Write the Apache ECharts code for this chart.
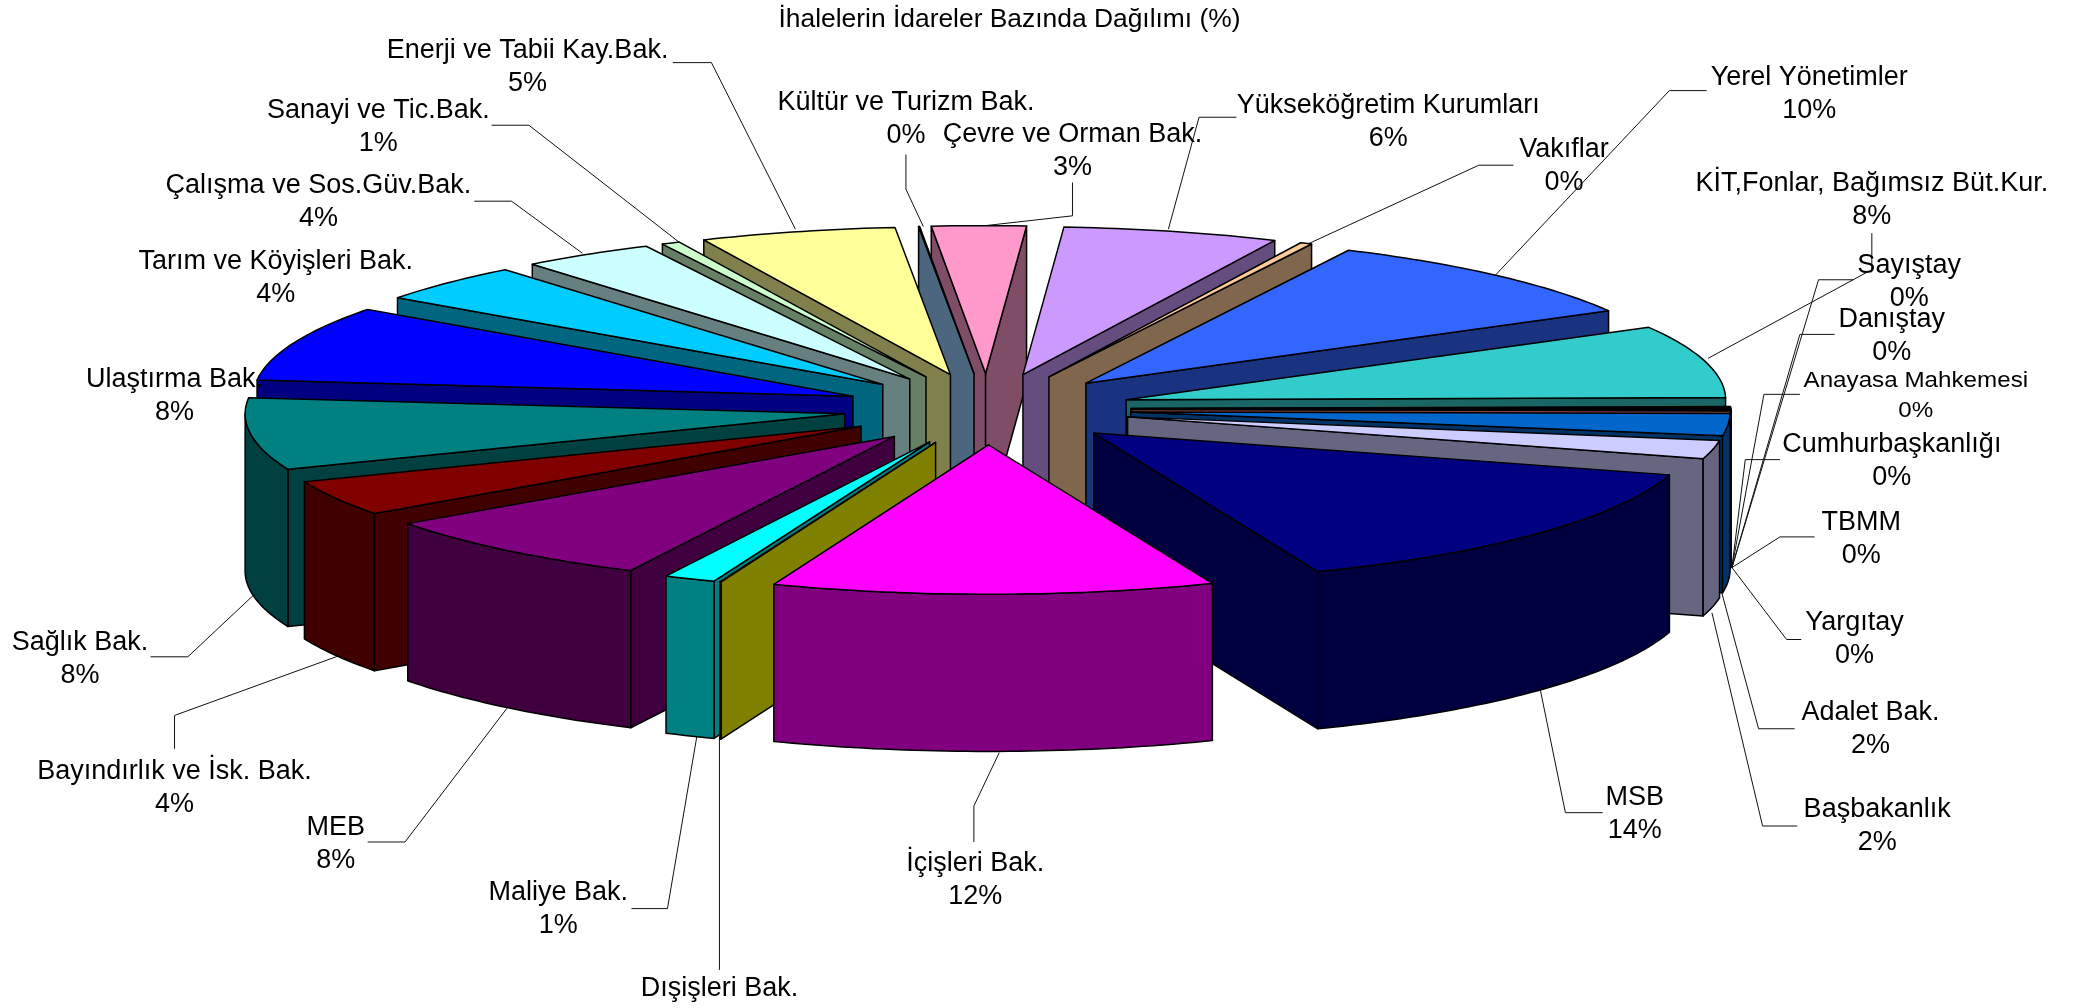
<!DOCTYPE html>
<html><head><meta charset="utf-8">
<style>html,body{margin:0;padding:0;background:#fff}#c{width:2089px;height:1008px}</style>
<script src="https://cdn.jsdelivr.net/npm/echarts@6/dist/echarts.min.js"></script>
</head><body><div id="c"></div>
<script>
// ---- data (clockwise from the top of the pie) ----
const categories = ['Çevre ve Orman Bak.','Yükseköğretim Kurumları','Vakıflar','Yerel Yönetimler','KİT,Fonlar, Bağımsız Büt.Kur.','Sayıştay','Danıştay','Anayasa Mahkemesi','Cumhurbaşkanlığı','TBMM','Yargıtay','Adalet Bak.','Başbakanlık','MSB','İçişleri Bak.','Dışişleri Bak.','Maliye Bak.','MEB','Bayındırlık ve İsk. Bak.','Sağlık Bak.','Ulaştırma Bak.','Tarım ve Köyişleri Bak.','Çalışma ve Sos.Güv.Bak.','Sanayi ve Tic.Bak.','Enerji ve Tabii Kay.Bak.','Kültür ve Turizm Bak.'];
const values = [2.55,5.85,0.32,9.7,7.97,0.1,0.1,0.05,0.05,0.05,0.05,2.38,2.0,14.49,12.0,0.03,1.4,7.88,3.9,7.85,8.3,4.2,3.62,0.5,5.31,0.03];
const shownPercents = [3,6,0,10,8,0,0,0,0,0,0,2,2,14,12,0,1,8,4,8,8,4,4,1,5,0];
const topColors = ['#FF99CC','#CC99FF','#FFCC99','#3366FF','#33CCCC','#9999FF','#993366','#FFFFCC','#CCFFFF','#660066','#FF8080','#0066CC','#CCCCFF','#000080','#FF00FF','#FFFF00','#00FFFF','#800080','#800000','#008080','#0000FF','#00CCFF','#CCFFFF','#CCFFCC','#FFFF99','#99CCFF'];
const titleText = 'İhalelerin İdareler Bazında Dağılımı (%)';

// ---- layout (reference units: 1568 wide; label = first line centre, leader = polyline) ----
const K = 2089/1568;
const labelAt = [[805,100],[1042,78],[1174,111],[1358,57],[1405,137],[1433,198],[1420,239],[1438,285],[1420,333],[1397,391],[1392,466],[1404,534],[1409,607],[1227,598],[732,647],[540,741],[419,669],[252,620],[131,578],[60,481],[131,284],[207,195],[239,138],[284,82],[396,37],[680,76]];
const leaders = [
 [[805,137],[805,162],[725,171]],[[928,88],[900,88],[877,172]],[[1136,124],[1110,124],[982,183]],[[1281,68],[1253,68],[1122,207]],[[1405,175],[1405,204],[1402,204],[1282,269]],
 [[1391,210],[1365,210],[1300,426]],[[1377,251],[1351,251],[1300,426]],[[1351,296],[1324,296],[1300,426]],[[1336,345],[1310,345],[1300,426]],[[1362,403],[1336,403],[1300,426]],
 [[1352,480],[1341,480],[1300,426]],[[1347,547],[1320,547],[1291,440]],[[1349,620],[1323,620],[1285,460]],[[1203,610],[1175,610],[1156,517]],[[731,632],[731,605],[750,565]],
 [[540,728],[540,553]],[[474,682],[501,682],[523,553]],[[276,632],[304,632],[381,531]],[[131,562],[131,537],[255,492]],[[113,493],[141,493],[190,447]],
 [],[],[[356,151],[384,151],[437,190]],[[369,94],[397,94],[510,182]],[[505,47],[534,47],[597,172]],[[680,116],[680,142],[693,170]]
];
const PIE = {cx:741*K, cy:307*K, rx:450*K, ry:111*K, depth:118*K, explode:0.24, startDeg:-5.2, frontGain:1.01};

const total = values.reduce((a,b)=>a+b,0);
const slices = []; let acc = PIE.startDeg;
values.forEach((v,i)=>{ const a0=acc, a1=acc+v/total*360; acc=a1; slices.push({i,a0,a1,mid:(a0+a1)/2}); });
const rad = d=>d*Math.PI/180;
const drawOrder = slices.slice().sort((p,q)=>Math.cos(rad(q.mid))-Math.cos(rad(p.mid))).map(s=>s.i);
function half(hex){const n=parseInt(hex.slice(1),16);const c=[n>>16,(n>>8)&255,n&255].map(x=>Math.round(x/2));return 'rgb('+c.join(',')+')';}
const EDGE = {stroke:'#000',lineWidth:1.5,lineJoin:'round'};
const yAt = d=>{const v=-Math.cos(rad(d));return PIE.ry*(v>0?v*PIE.frontGain:v);};

function renderSlice(params){
  const s = slices[drawOrder[params.dataIndex]];
  const col = topColors[s.i], side = half(col);
  const ox = PIE.cx + PIE.rx*PIE.explode*Math.sin(rad(s.mid));
  const oy = PIE.cy + yAt(s.mid)*PIE.explode;
  const P = d=>[ox+PIE.rx*Math.sin(rad(d)), oy+yAt(d)];
  const down = p=>[p[0],p[1]+PIE.depth];
  const apex=[ox,oy], kids=[];
  const poly=(pts,fill)=>kids.push({type:'polygon',shape:{points:pts},style:Object.assign({fill},EDGE)});
  const wall=d=>{const e=P(d);poly([apex,e,down(e),down(apex)],side);};
  if(Math.sin(rad(s.a0))<0) wall(s.a0);
  if(Math.sin(rad(s.a1))>0) wall(s.a1);
  const lo=Math.max(s.a0,90), hi=Math.min(s.a1,270);
  if(hi>lo){
    const up=[]; for(let d=lo;d<hi;d+=1) up.push(P(d)); up.push(P(hi));
    poly(up.concat(up.map(down).reverse()),side);
  }
  const arc=[]; for(let d=s.a0;d<s.a1;d+=1) arc.push(P(d)); arc.push(P(s.a1));
  poly([apex].concat(arc),col);
  return {type:'group',children:kids};
}
function renderLeader(params){
  const pts = leaders[params.dataIndex].map(p=>[p[0]*K,p[1]*K]);
  if(!pts.length) return {type:'group',children:[]};
  return {type:'polyline',shape:{points:pts},style:{stroke:'#111',lineWidth:1,fill:'none'}};
}
function renderLabel(params){
  const i=params.dataIndex, p=labelAt[i], name=categories[i];
  const small = name==='Anayasa Mahkemesi';
  const oneLine = name==='Dışişleri Bak.';
  const lh = small?30:33;
  const x=p[0]*K, y=(p[1]+1)*K+(oneLine?0:lh/2);
  return {type:'text',x,y,scaleX:small?1.1:1,style:{
    text: oneLine?name:name+'\n'+shownPercents[i]+'%',
    x:0,y:0,align:'center',verticalAlign:'middle',fill:'#000',
    font:(small?22:27)+'px "Liberation Sans", Arial, sans-serif',lineHeight:lh}};
}
const chart = echarts.init(document.getElementById('c'),null,{renderer:'canvas'});
chart.setOption({
  animation:false,backgroundColor:'#fff',
  title:{text:titleText,left:754*K,top:2,textAlign:'center',textStyle:{fontFamily:'"Liberation Sans", Arial, sans-serif',fontWeight:'normal',fontSize:26.4,color:'#000'}},
  series:[
    {type:'custom',coordinateSystem:'none',silent:true,z:1,renderItem:renderLeader,data:values},
    {type:'custom',coordinateSystem:'none',silent:true,z:2,renderItem:renderSlice,data:drawOrder.map(i=>values[i])},
    {type:'custom',coordinateSystem:'none',silent:true,z:3,renderItem:renderLabel,data:values}
  ]
});
</script></body></html>
